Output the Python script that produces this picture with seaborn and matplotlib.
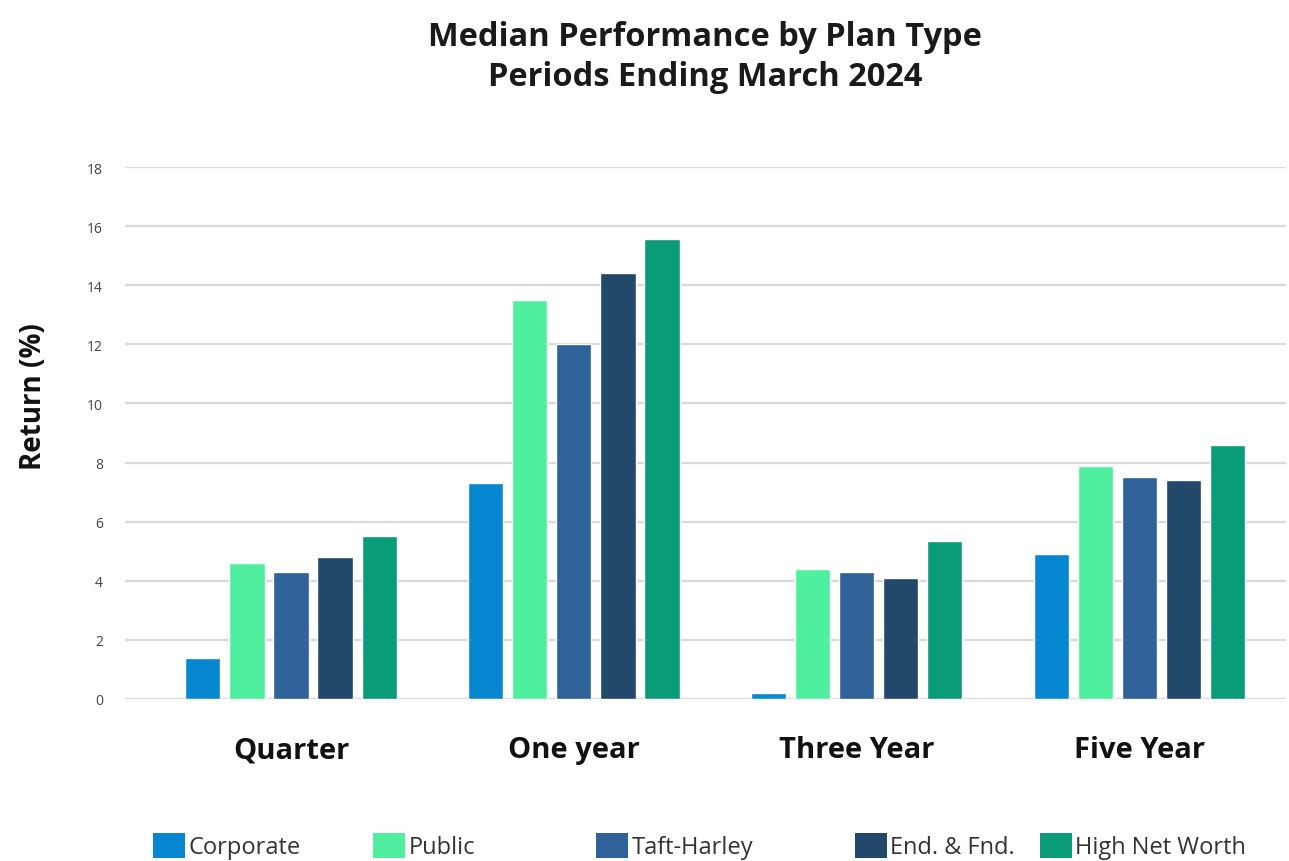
import matplotlib
matplotlib.use("Agg")
import matplotlib.pyplot as plt
from matplotlib.patches import Patch
import pandas as pd
import seaborn as sns

# Median returns (%) by period and plan type
periods = ["Quarter", "One year", "Three Year", "Five Year"]
plan_types = ["Corporate", "Public", "Taft-Harley", "End. & Fnd.", "High Net Worth"]
corporate = [1.4, 7.3, 0.2, 4.9]
public = [4.6, 13.5, 4.4, 7.9]
taft_hartley = [4.3, 12.0, 4.3, 7.5]
endowment = [4.8, 14.4, 4.1, 7.4]
high_net_worth = [5.5, 15.55, 5.35, 8.6]
y_ticks = [0, 2, 4, 6, 8, 10, 12, 14, 16, 18]

colors = ["#0787CF", "#50EFA0", "#2E6299", "#22486A", "#0A9B78"]

series = [corporate, public, taft_hartley, endowment, high_net_worth]
rows = []
for name, vals in zip(plan_types, series):
    for p, v in zip(periods, vals):
        rows.append({"Period": p, "Plan": name, "Return": v})
df = pd.DataFrame(rows)

sns.set_theme(style="white")
plt.rcParams["font.family"] = ["Open Sans", "DejaVu Sans"]

fig = plt.figure(figsize=(12.89, 8.62), dpi=100)
ax = fig.add_axes([0.097, 0.188, 0.901, 0.617])

sns.barplot(data=df, x="Period", y="Return", hue="Plan", order=periods,
            hue_order=plan_types, palette=colors, width=0.78, gap=0.2,
            saturation=1, legend=False, ax=ax, zorder=3)

ax.set_ylim(0, 18)
ax.set_xlim(-0.587, 3.52)
ax.set_yticks(y_ticks)
ax.set_yticklabels([str(t) for t in y_ticks], fontsize=10, color="#444444")
ax.yaxis.grid(True, color="#d9d9d9", linewidth=1.6, zorder=0)
ax.set_axisbelow(True)
for s in ax.spines.values():
    s.set_visible(False)
ax.tick_params(axis="y", length=0, pad=16)
ax.tick_params(axis="x", length=0, pad=26)
for lbl in ax.get_xticklabels():
    lbl.set_fontsize(21)
    lbl.set_fontweight("bold")
    lbl.set_color("#111111")

ax.set_xlabel("")
ax.set_ylabel("Return (%)", fontsize=20, fontweight="bold", color="#111111")
ax.yaxis.set_label_coords(-0.066, 0.57)

fig.suptitle("Median Performance by Plan Type\nPeriods Ending March 2024",
             x=0.547, y=0.976, va="top", fontsize=23.5, fontweight="bold",
             color="#1a1a1a", linespacing=1.3)

# Legend entries laid out along the bottom
legend_x = [153, 373, 596, 855, 1040]
for name, col, lx in zip(plan_types, colors, legend_x):
    fig.legend(handles=[Patch(facecolor=col, edgecolor="none")], labels=[name],
               loc="center left", bbox_to_anchor=(lx / 1289, 1 - 847 / 862),
               frameon=False, fontsize=17, handlelength=1.35, handleheight=1.25,
               handletextpad=0.15, borderpad=0, borderaxespad=0,
               labelcolor="#333333")

fig.savefig("out.png", dpi=100)
